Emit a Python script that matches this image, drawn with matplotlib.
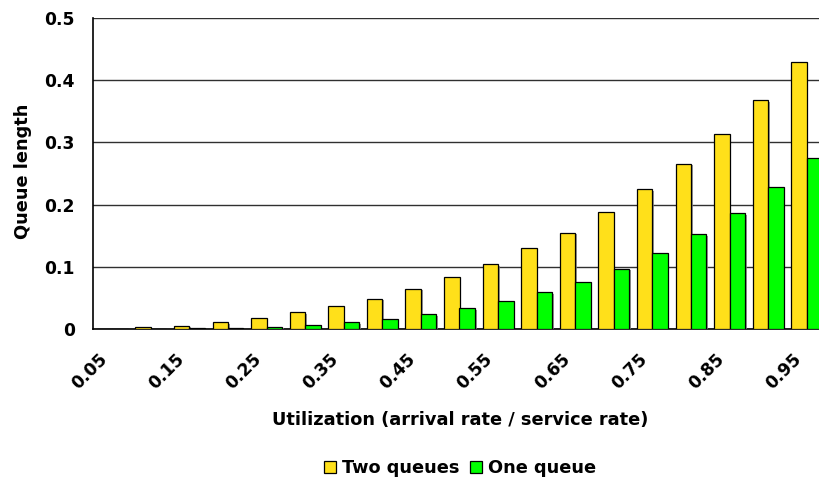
import numpy as np
import matplotlib
matplotlib.use("Agg")
import matplotlib.pyplot as plt
import matplotlib.patheffects as pe
from matplotlib.transforms import ScaledTranslation

# utilization levels 0.05 .. 0.95
utilization = ["0.05", "0.10", "0.15", "0.20", "0.25", "0.30", "0.35", "0.40", "0.45", "0.50",
               "0.55", "0.60", "0.65", "0.70", "0.75", "0.80", "0.85", "0.90", "0.95"]
two_queues = [0.0, 0.003, 0.0053, 0.011, 0.018, 0.027, 0.0365, 0.049, 0.065, 0.083,
              0.104, 0.130, 0.155, 0.188, 0.225, 0.266, 0.314, 0.368, 0.429]
one_queue = [0.0, 0.0002, 0.001, 0.0015, 0.0037, 0.0064, 0.0107, 0.0166, 0.0236, 0.033,
             0.0445, 0.059, 0.076, 0.097, 0.1227, 0.152, 0.1865, 0.228, 0.2754]

plt.rcParams["font.family"] = ["DejaVu Sans"]
plt.rcParams["font.weight"] = "bold"

fig = plt.figure(figsize=(8.2, 4.86), dpi=100)
# right edge runs past the figure, as in the original
ax = fig.add_axes([93 / 820, 1 - 329 / 486, (826 - 93) / 820, (329 - 18) / 486])

x = np.arange(len(utilization))
w = 0.4
shadow = [pe.SimplePatchShadow(offset=(1.2, -1.2), shadow_rgbFace="#808080", alpha=0.8), pe.Normal()]
b1 = ax.bar(x - w / 2, two_queues, w, color="#FFE01A", edgecolor="black", linewidth=0.9,
            label="Two queues", zorder=3)
b2 = ax.bar(x + w / 2, one_queue, w, color="#00FF00", edgecolor="black", linewidth=0.9,
            label="One queue", zorder=3)
for p in list(b1) + list(b2):
    p.set_path_effects(shadow)

ax.set_xlim(-0.5, len(utilization) - 0.5)
ax.set_ylim(0, 0.5)
ax.set_yticks([0, 0.1, 0.2, 0.3, 0.4, 0.5])
ax.set_yticklabels(["0", "0.1", "0.2", "0.3", "0.4", "0.5"])
ax.yaxis.grid(True, color="#303030", linewidth=1.0, zorder=0)
ax.set_axisbelow(True)

shown = x[::2]
ax.set_xticks(shown)
ax.set_xticklabels([utilization[i] for i in shown], rotation=45, ha="right",
                   va="center", rotation_mode="anchor")
ax.tick_params(axis="x", length=0, pad=20, labelsize=12.3)
ax.tick_params(axis="y", length=0, pad=13, labelsize=12.3)
# nudge rotated labels a little to the left
shift = ScaledTranslation(-8 / 100, 0, fig.dpi_scale_trans)
for lbl in ax.get_xticklabels():
    lbl.set_transform(lbl.get_transform() + shift)

for s in ["top", "right"]:
    ax.spines[s].set_visible(False)
ax.spines["left"].set_color("black")
ax.spines["bottom"].set_color("black")
ax.spines["left"].set_linewidth(1.2)
ax.spines["bottom"].set_linewidth(1.2)

ax.set_xlabel("Utilization (arrival rate / service rate)", fontsize=12.8, fontweight="bold")
ax.xaxis.set_label_coords((460 - 93) / 733, (329 - 411) / 311)
ax.set_ylabel("Queue length", fontsize=12.8, fontweight="bold", va="center")
ax.yaxis.set_label_coords((23 - 93) / 733, (329 - 171) / 311)

fig.legend(handles=[b1, b2], loc="center", bbox_to_anchor=(460 / 820, 1 - 468 / 486),
           ncol=2, frameon=False, fontsize=12.8, handlelength=0.65, handleheight=0.65,
           handletextpad=0.35, columnspacing=0.6)

fig.savefig("out.png", dpi=100)
